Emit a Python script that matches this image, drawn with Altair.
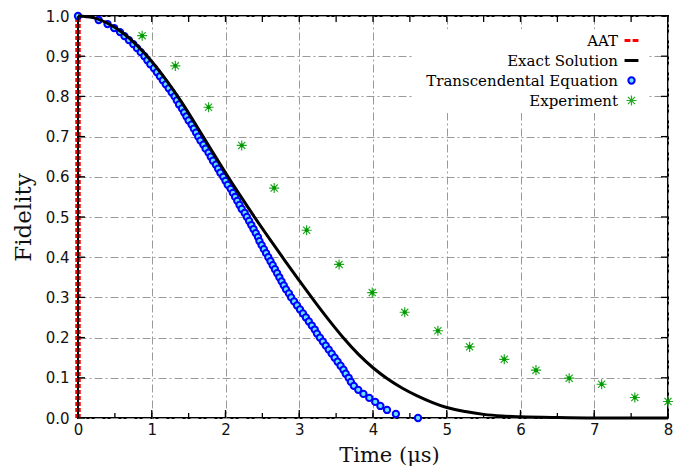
import altair as alt
import pandas as pd

SERIES = ["AAT", "Exact Solution", "Transcendental Equation", "Experiment"]
COLORS = ["#ff0000", "#000000", "#0000ff", "#22aa22"]
SHAPES = [
    "M-2.2,0H-0.35M0.35,0H2.2",
    "M-2.2,0H2.2",
    "circle",
    "M-1.6,0H1.6M0,-1.6V1.6M-1.13,-1.13L1.13,1.13M-1.13,1.13L1.13,-1.13",
]
WIDTHS = [3.2, 3, 2, 1.2]

AAT_T = [0, 0]
AAT_F = [0, 1]

EXACT_T = [0.0, 0.2, 0.4, 0.6, 0.8, 1.0, 1.2, 1.4, 1.6, 1.8, 2.0, 2.2, 2.4, 2.6,
           2.8, 3.0, 3.2, 3.4, 3.6, 3.8, 4.0, 4.2, 4.4, 4.6, 4.8, 5.0, 5.25, 5.5,
           5.75, 6.0, 6.5, 7.0, 8.0]
EXACT_F = [1.000, 0.996, 0.982, 0.959, 0.927, 0.887, 0.840, 0.787, 0.729, 0.669,
           0.610, 0.553, 0.498, 0.445, 0.393, 0.342, 0.292, 0.244, 0.199, 0.159,
           0.125, 0.097, 0.074, 0.055, 0.039, 0.026, 0.016, 0.009, 0.005, 0.003,
           0.001, 0.000, 0.000]

TE_F = [1.00, 0.99, 0.98, 0.97, 0.96, 0.95, 0.94, 0.93, 0.92, 0.91,
        0.90, 0.89, 0.88, 0.87, 0.86, 0.85, 0.84, 0.83, 0.82, 0.81,
        0.80, 0.79, 0.78, 0.77, 0.76, 0.75, 0.74, 0.73, 0.72, 0.71,
        0.70, 0.69, 0.68, 0.67, 0.66, 0.65, 0.64, 0.63, 0.62, 0.61,
        0.60, 0.59, 0.58, 0.57, 0.56, 0.55, 0.54, 0.53, 0.52, 0.51,
        0.50, 0.49, 0.48, 0.47, 0.46, 0.45, 0.44, 0.43, 0.42, 0.41,
        0.40, 0.39, 0.38, 0.37, 0.36, 0.35, 0.34, 0.33, 0.32, 0.31,
        0.30, 0.29, 0.28, 0.27, 0.26, 0.25, 0.24, 0.23, 0.22, 0.21,
        0.20, 0.19, 0.18, 0.17, 0.16, 0.15, 0.14, 0.13, 0.12, 0.11,
        0.10, 0.09, 0.08, 0.07, 0.06, 0.05, 0.04, 0.03, 0.02, 0.01,
        0.00]
TE_T = [0.00, 0.28, 0.40, 0.49, 0.57, 0.63, 0.69, 0.75, 0.80, 0.85,
        0.90, 0.94, 0.98, 1.03, 1.07, 1.11, 1.15, 1.19, 1.23, 1.27,
        1.31, 1.34, 1.37, 1.41, 1.44, 1.47, 1.50, 1.54, 1.57, 1.60,
        1.63, 1.66, 1.70, 1.73, 1.77, 1.80, 1.83, 1.87, 1.90, 1.93,
        1.97, 2.00, 2.03, 2.07, 2.10, 2.13, 2.16, 2.19, 2.22, 2.26,
        2.29, 2.32, 2.35, 2.38, 2.41, 2.44, 2.46, 2.49, 2.52, 2.55,
        2.58, 2.61, 2.64, 2.67, 2.70, 2.73, 2.76, 2.79, 2.82, 2.86,
        2.89, 2.93, 2.97, 3.01, 3.05, 3.09, 3.13, 3.17, 3.21, 3.24,
        3.28, 3.32, 3.36, 3.40, 3.44, 3.48, 3.52, 3.56, 3.60, 3.63,
        3.67, 3.70, 3.74, 3.80, 3.87, 3.95, 4.03, 4.10, 4.19, 4.31,
        4.61]

EXP_T = [0.87, 1.32, 1.77, 2.22, 2.66, 3.10, 3.54, 3.99, 4.43, 4.88, 5.31,
         5.78, 6.21, 6.66, 7.10, 7.55, 8.00]
EXP_F = [0.951, 0.876, 0.773, 0.678, 0.572, 0.467, 0.382, 0.312, 0.263, 0.217,
         0.177, 0.146, 0.119, 0.099, 0.084, 0.051, 0.041]

XTICKS = [0, 0.5, 1, 1.5, 2, 2.5, 3, 3.5, 4, 4.5, 5, 5.5, 6, 6.5, 7, 7.5, 8]
XMAJOR = [0, 1, 2, 3, 4, 5, 6, 7, 8]
YTICKS = [0.0, 0.1, 0.2, 0.3, 0.4, 0.5, 0.6, 0.7, 0.8, 0.9, 1.0]

W, H = 590, 402

aat_df = pd.DataFrame({"t": AAT_T, "F": AAT_F})
exact_df = pd.DataFrame({"t": EXACT_T, "F": EXACT_F})
te_df = pd.DataFrame({"t": TE_T, "F": TE_F, "series": SERIES[2]})
exp_df = pd.DataFrame({"t": EXP_T, "F": EXP_F, "series": SERIES[3]})
pts_df = pd.concat([te_df, exp_df], ignore_index=True)
xt_df = pd.DataFrame({"t": XTICKS})
xm_df = pd.DataFrame({"t": XMAJOR})
yt_df = pd.DataFrame({"F": YTICKS})

xs = alt.Scale(domain=[0, 8], nice=False, zero=False)
ys = alt.Scale(domain=[0, 1], nice=False, zero=False)

x_axis = alt.Axis(values=XMAJOR, grid=True, ticks=False, domain=False,
                  labelFlush=False, labelPadding=4, title="Time (μs)",
                  titleX=311, titleY=43, titleBaseline="alphabetic",
                  titleFontSize=21)
y_axis = alt.Axis(values=YTICKS, format=".1f", grid=True, ticks=False,
                  domain=False, labelPadding=9, title="Fidelity",
                  titlePadding=10)


def X():
    return alt.X("t:Q", scale=xs, axis=x_axis)


def Y():
    return alt.Y("F:Q", scale=ys, axis=y_axis)


leg = alt.Legend(title=None, orient="none", legendX=336, legendY=13,
                 labelAlign="right", labelOffset={"expr": "-21"}, symbolOffset=206,
                 labelLimit=400, fillColor="white", padding=4, rowPadding=4,
                 labelFont="DejaVu Serif", labelFontSize=15, labelColor="black",
                 symbolSize=40)

aat = alt.Chart(aat_df).mark_line(color="#ff0000", strokeWidth=5.5,
                                  strokeDash=[4, 2]).encode(x=X(), y=Y())

points = alt.Chart(pts_df).mark_point(filled=False, size=40, fill="#66e0ff",
                                      opacity=1).encode(
    x=X(), y=Y(),
    color=alt.Color("series:N", scale=alt.Scale(domain=SERIES, range=COLORS), legend=leg),
    shape=alt.Shape("series:N", scale=alt.Scale(domain=SERIES, range=SHAPES), legend=leg),
    strokeWidth=alt.StrokeWidth("series:N", scale=alt.Scale(type="ordinal", domain=SERIES, range=WIDTHS), legend=leg),
)

exact = alt.Chart(exact_df).mark_line(color="black", strokeWidth=3,
                                      interpolate="monotone").encode(x=X(), y=Y())

dots = alt.Chart(exp_df).mark_point(filled=True, size=16, color="#009900",
                                    opacity=1).encode(x=X(), y=Y())

left_edge = alt.Chart(aat_df).mark_rule(color="black", strokeWidth=1.3).encode(
    x=alt.value(0), y=alt.value(0), y2=alt.value(H))

bt = alt.Chart(xt_df).mark_rule(color="black", strokeWidth=1.3).encode(
    x=X(), y=alt.value(H), y2=alt.value(H - 5))
bm = alt.Chart(xm_df).mark_rule(color="black", strokeWidth=1.3).encode(
    x=X(), y=alt.value(H), y2=alt.value(H - 8))
tt = alt.Chart(xt_df).mark_rule(color="black", strokeWidth=1.3).encode(
    x=X(), y=alt.value(0), y2=alt.value(6))
lt = alt.Chart(yt_df).mark_rule(color="black", strokeWidth=1.3).encode(
    y=Y(), x=alt.value(0), x2=alt.value(7))
rt = alt.Chart(yt_df).mark_rule(color="black", strokeWidth=1.3).encode(
    y=Y(), x=alt.value(W - 7), x2=alt.value(W))

chart = alt.layer(aat, points, exact, dots, left_edge, bt, bm, tt, lt, rt).properties(
    width=W, height=H,
    autosize=alt.AutoSizeParams(type="none"),
    padding={"left": 70, "top": 8, "right": 12, "bottom": 48},
).configure_view(
    stroke="black", strokeWidth=2
).configure_axis(
    gridColor="#9a9a9a", gridDash=[8, 3, 2, 3], gridWidth=1,
    labelFont="DejaVu Sans", labelFontSize=15, labelColor="#111",
    titleFont="DejaVu Serif", titleFontSize=23, titleFontWeight="normal",
    titleColor="#111",
)

chart.save("out.html", embed_options={"renderer": "svg", "actions": False})
